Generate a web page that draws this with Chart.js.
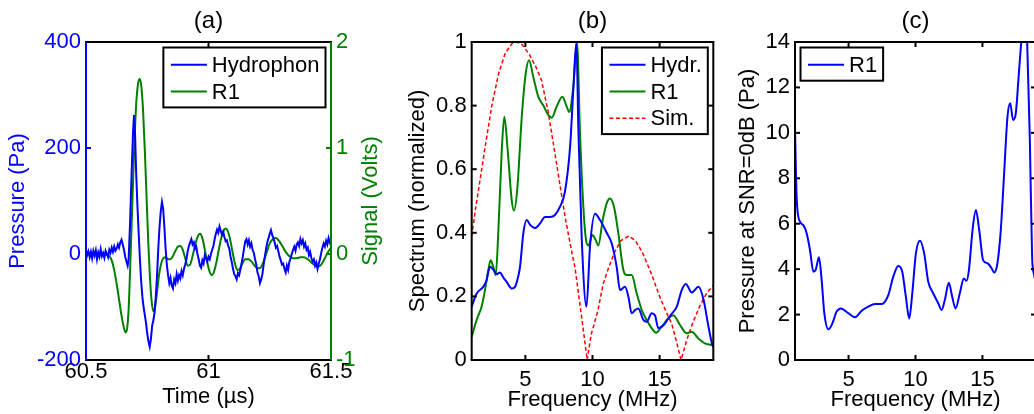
<!DOCTYPE html>
<html>
<head>
<meta charset="utf-8">
<script src="https://cdn.jsdelivr.net/npm/chart.js@4.4.0/dist/chart.umd.min.js"></script>
<style>
body{margin:0;background:#fff;width:1034px;height:414px;overflow:hidden;position:relative}
canvas{position:absolute;left:0;top:0}
</style>
</head>
<body>
<canvas id="chartA" width="1040" height="414"></canvas>
<canvas id="chartB" width="1040" height="414"></canvas>
<canvas id="chartC" width="1040" height="414"></canvas>
<script>
// (a) signaux temporels
var hydTime = [60.500,60.505,60.510,60.515,60.520,60.525,60.530,60.535,60.540,60.545,60.550,60.555,60.560,60.565,60.570,60.575,60.580,60.585,60.590,60.595,
  60.600,60.605,60.610,60.615,60.620,60.625,60.630,60.635,60.640,60.645,60.650,60.655,60.660,60.665,60.670,60.674,60.680,60.686,60.692,60.696,
  60.700,60.705,60.710,60.715,60.720,60.725,60.730,60.735,60.740,60.745,60.750,60.755,60.760,60.765,60.770,60.775,60.780,60.785,60.790,60.795,
  60.800,60.805,60.810,60.815,60.820,60.825,60.830,60.835,60.840,60.845,60.850,60.855,60.860,60.865,60.870,60.875,60.880,60.885,60.890,60.895,
  60.900,60.905,60.910,60.915,60.920,60.925,60.930,60.935,60.940,60.945,60.950,60.955,60.960,60.965,60.970,60.975,60.980,60.985,60.990,60.995,
  61.000,61.005,61.010,61.015,61.020,61.025,61.030,61.035,61.040,61.045,61.050,61.055,61.060,61.065,61.070,61.075,61.080,61.085,61.090,61.095,
  61.100,61.105,61.110,61.115,61.120,61.125,61.130,61.135,61.140,61.145,61.150,61.155,61.160,61.165,61.170,61.175,61.180,61.185,61.190,61.195,
  61.200,61.205,61.210,61.215,61.220,61.225,61.230,61.235,61.240,61.245,61.250,61.255,61.260,61.265,61.270,61.275,61.280,61.285,61.290,61.295,
  61.300,61.305,61.310,61.315,61.320,61.325,61.330,61.335,61.340,61.345,61.350,61.355,61.360,61.365,61.370,61.375,61.380,61.385,61.390,61.395,
  61.400,61.405,61.410,61.415,61.420,61.425,61.430,61.435,61.440,61.445,61.450,61.455,61.460,61.465,61.470,61.475,61.480,61.485,61.490,61.495,61.500];
var hydPressure = [8,-2,5,-6,4,-8,6,-3,7,-10,3,-5,9,-4,2,-7,6,0,-6,8,
  2,12,4,14,6,10,18,12,22,27,18,8,-5,-14,-22,-10,60,150,230,262,
  230,150,90,40,-10,-50,-80,-100,-115,-130,-150,-165,-175,-160,-135,-125,-110,-80,-40,10,
  50,80,98,85,50,10,-20,-40,-55,-45,-60,-65,-48,-55,-38,-50,-40,-46,-32,-40,
  -28,-20,-10,5,15,22,28,18,22,10,14,0,-10,-22,-26,-12,-18,-2,-8,-14,
  -5,-10,0,8,15,28,38,46,40,52,44,36,42,32,24,26,16,10,-5,-15,
  -28,-38,-42,-48,-36,-40,-30,-18,-5,10,24,28,18,26,14,20,8,2,-10,-20,
  -35,-42,-55,-48,-38,-20,-5,10,22,30,38,45,36,30,22,12,15,5,-5,-12,
  -20,-18,-28,-35,-22,-30,-15,-8,0,8,14,6,18,22,15,28,20,26,14,20,
  8,12,-2,4,-8,-14,-10,-22,-16,-28,-18,-10,2,12,20,14,25,18,30,22,28];

var r1Time = [60.500,60.520,60.540,60.560,60.580,60.595,60.605,60.615,60.625,60.635,60.645,60.655,60.662,60.668,60.674,60.680,60.688,60.696,60.704,60.712,
  60.719,60.726,60.733,60.740,60.747,60.754,60.761,60.768,60.775,60.782,60.790,60.798,60.806,60.815,60.825,60.835,60.845,60.855,60.865,60.875,
  60.885,60.895,60.905,60.915,60.925,60.935,60.945,60.955,60.965,60.975,60.985,60.995,61.005,61.013,61.022,61.032,61.042,61.052,61.062,61.070,
  61.078,61.088,61.098,61.108,61.118,61.128,61.138,61.150,61.163,61.175,61.188,61.200,61.212,61.225,61.238,61.250,61.262,61.274,61.286,61.300,
  61.315,61.330,61.345,61.360,61.375,61.390,61.405,61.420,61.435,61.448,61.460,61.475,61.488,61.500];
var r1Volts = [0,0,0,0,-0.005,-0.02,-0.06,-0.15,-0.28,-0.43,-0.58,-0.70,-0.74,-0.70,-0.52,-0.15,0.40,0.95,1.38,1.60,
  1.65,1.58,1.35,0.98,0.55,0.12,-0.22,-0.45,-0.54,-0.50,-0.36,-0.20,-0.10,-0.04,-0.03,-0.05,-0.05,-0.02,0.03,0.07,
  0.075,0.04,-0.04,-0.11,-0.10,-0.02,0.08,0.16,0.19,0.15,0.04,-0.08,-0.17,-0.20,-0.17,-0.08,0.04,0.15,0.22,0.24,
  0.22,0.14,0.02,-0.09,-0.15,-0.14,-0.09,-0.05,-0.05,-0.07,-0.11,-0.135,-0.13,-0.07,0.02,0.10,0.14,0.15,0.13,0.08,
  0.02,-0.02,-0.04,-0.04,-0.03,-0.03,-0.05,-0.08,-0.11,-0.12,-0.10,-0.04,0.02,0.06];

// (b) spectres normalises
var hydFreq = [1.0,1.37,1.86,2.1,2.36,2.6,2.86,3.1,3.35,3.6,3.98,4.23,4.45,4.6,4.85,5.1,5.35,5.72,6.1,6.46,
  6.84,7.2,7.58,7.95,8.33,8.57,8.8,8.95,9.2,9.55,9.82,10.19,10.56,11.06,11.43,11.8,12.05,12.42,12.67,12.92,
  13.17,13.41,13.79,14.03,14.41,14.66,14.9,15.3,15.8,16.28,16.65,16.95,17.4,17.9,18.27,18.64,18.9,19.0];
var hydSpectrum = [0.168,0.209,0.23,0.25,0.293,0.285,0.27,0.275,0.26,0.246,0.225,0.23,0.26,0.293,0.40,0.44,0.425,0.415,0.43,0.45,
  0.45,0.456,0.482,0.53,0.67,0.85,1.0,0.72,0.38,0.168,0.36,0.46,0.44,0.40,0.367,0.293,0.22,0.23,0.20,0.147,
  0.157,0.162,0.126,0.12,0.147,0.14,0.10,0.11,0.14,0.168,0.22,0.239,0.212,0.23,0.19,0.105,0.052,0.04];

var r1Freq = [1.0,1.37,1.74,1.99,2.24,2.41,2.61,2.79,2.98,3.24,3.43,3.68,3.98,4.15,4.4,4.73,5.02,5.27,5.59,5.96,
  6.34,6.71,6.96,7.33,7.75,8.08,8.27,8.57,8.85,9.07,9.32,9.52,9.7,9.99,10.24,10.43,10.76,11.06,11.3,11.6,
  11.92,12.3,12.54,12.92,13.29,13.67,14.04,14.41,14.73,15.16,15.65,16.02,16.52,17.02,17.39,17.88,18.38,18.9,19.0];
var r1Spectrum = [0.073,0.126,0.168,0.22,0.283,0.314,0.293,0.267,0.40,0.66,0.765,0.66,0.503,0.47,0.54,0.765,0.90,0.943,0.89,0.828,
  0.80,0.77,0.762,0.797,0.828,0.797,0.78,0.86,0.996,0.713,0.48,0.377,0.36,0.393,0.377,0.36,0.44,0.493,0.508,0.482,
  0.40,0.283,0.267,0.267,0.21,0.157,0.126,0.10,0.086,0.105,0.131,0.141,0.11,0.084,0.089,0.068,0.052,0.047,0.045];

var simFreq = [1.0,1.3,1.6,2.0,2.5,3.0,3.5,4.0,4.4,4.8,5.3,5.8,6.2,6.7,7.2,7.5,8.0,8.5,8.7,9.0,
  9.3,9.6,9.9,10.4,10.8,11.2,11.6,12.1,12.7,13.2,13.7,14.4,15.0,15.5,15.9,16.3,16.6,17.0,17.5,18.0,18.5,19.0];
var simSpectrum = [0.39,0.48,0.56,0.67,0.80,0.90,0.965,0.995,1.0,0.99,0.96,0.92,0.88,0.78,0.65,0.57,0.44,0.33,0.29,0.195,
  0.10,0.0,0.08,0.155,0.24,0.29,0.335,0.375,0.39,0.375,0.34,0.27,0.20,0.15,0.115,0.05,0.0,0.06,0.12,0.17,0.21,0.235];

// (c) pression a SNR = 0 dB
var snrFreq = [1.0,1.12,1.37,1.62,1.87,2.12,2.37,2.54,2.79,2.99,3.19,3.49,3.79,4.11,4.43,4.98,5.48,5.98,6.47,6.97,
  7.47,7.97,8.34,8.71,9.01,9.28,9.53,9.76,10.03,10.33,10.65,10.95,11.32,11.7,11.95,12.19,12.49,12.74,12.99,13.31,
  13.61,13.81,13.99,14.26,14.51,14.76,15.05,15.38,15.68,15.88,16.12,16.37,16.62,16.87,17.07,17.29,17.49,17.72,17.91,18.12,
  18.34,18.54,18.71,18.84,19.0];
var snrPressure = [10.2,7.19,6.09,5.94,5.58,4.84,3.89,3.96,4.52,3.52,2.06,1.35,1.61,2.13,2.27,2.06,1.88,2.17,2.35,2.47,
  2.47,2.86,3.67,4.14,3.89,2.79,1.83,2.94,4.69,5.25,4.69,3.45,2.94,2.5,2.2,2.64,3.4,2.79,2.27,2.94,
  3.59,3.49,3.96,5.72,6.6,5.72,4.4,4.26,4.04,3.85,4.26,5.72,8.22,10.71,11.3,10.57,10.86,12.62,14.1,15.5,
  14.0,9.69,4.55,3.8,3.4];

// graduations
var aTimeTicks = [60.5, 61, 61.5];
var aPressTicks = [-200, 0, 200, 400];
var aVoltTicks = [-1, 0, 1, 2];
var bFreqTicks = [5, 10, 15];
var bSpecTicks = [0, 0.2, 0.4, 0.6, 0.8, 1];
var cFreqTicks = [5, 10, 15];
var cPressTicks = [0, 2, 4, 6, 8, 10, 12, 14];

var BLUE = '#0000ff', GREEN = '#008000', RED = '#ff0000';
var FONT = '"Liberation Sans", Arial, Helvetica, sans-serif';

Chart.defaults.font.family = FONT;
Chart.defaults.font.size = 22;
Chart.defaults.color = '#000';

function xy(xs, ys){ return xs.map(function(x, i){ return {x: x, y: ys[i]}; }); }
function fixTicks(values){ return function(scale){ scale.ticks = values.map(function(v){ return {value: v}; }); }; }
function seg(ctx, x1, y1, x2, y2){ ctx.beginPath(); ctx.moveTo(x1, y1); ctx.lineTo(x2, y2); ctx.stroke(); }

// cadre et graduations vers l'interieur (style matlab)
var framePlugin = {
  id: 'frame',
  afterDatasetsDraw: function(chart, args, opts){
    var ctx = chart.ctx, a = chart.chartArea, tl = 5;
    var xs = chart.scales.x, yl = chart.scales.y, yr = chart.scales[opts.rightScale] || yl;
    ctx.save();
    ctx.lineWidth = 2;
    ctx.strokeStyle = '#000';
    xs.ticks.forEach(function(t){
      var px = xs.getPixelForValue(t.value);
      seg(ctx, px, a.bottom, px, a.bottom - tl);
      seg(ctx, px, a.top, px, a.top + tl);
    });
    ctx.strokeStyle = opts.leftColor;
    yl.ticks.forEach(function(t){ var py = yl.getPixelForValue(t.value); seg(ctx, a.left, py, a.left + tl, py); });
    ctx.strokeStyle = opts.rightColor;
    yr.ticks.forEach(function(t){ var py = yr.getPixelForValue(t.value); seg(ctx, a.right, py, a.right - tl, py); });
    ctx.strokeStyle = '#000';
    seg(ctx, a.left - 1, a.top, a.right + 1, a.top);
    seg(ctx, a.left - 1, a.bottom, a.right + 1, a.bottom);
    ctx.strokeStyle = opts.leftColor;
    seg(ctx, a.left, a.top, a.left, a.bottom);
    ctx.strokeStyle = opts.rightColor;
    seg(ctx, a.right, a.top, a.right, a.bottom);
    ctx.restore();
  }
};

// legende encadree dans la zone du graphe
var boxLegend = {
  id: 'boxLegend',
  afterDatasetsDraw: function(chart, args, opts){
    var ctx = chart.ctx, a = chart.chartArea;
    var items = chart.data.datasets;
    var padL = 7.5, lineLen = 36, gap = 5, padR = 6, padT = 4, rowH = 26.7, padB = 2.5, inset = 5.5;
    ctx.save();
    ctx.font = '22px ' + FONT;
    var textW = Math.max.apply(null, items.map(function(d){ return ctx.measureText(d.label).width; }));
    var w = padL + lineLen + gap + textW + padR;
    var h = padT + items.length * rowH + padB;
    var left = opts.side === 'right' ? a.right - inset - w : a.left + inset;
    var top = a.top + inset;
    ctx.fillStyle = '#fff';
    ctx.fillRect(left, top, w, h);
    ctx.lineWidth = 2;
    ctx.strokeStyle = '#000';
    ctx.strokeRect(left, top, w, h);
    items.forEach(function(d, i){
      var cy = top + padT + rowH * (i + 0.5);
      ctx.strokeStyle = d.borderColor;
      ctx.lineWidth = d.borderWidth;
      ctx.setLineDash(d.borderDash || []);
      seg(ctx, left + padL, cy, left + padL + lineLen, cy);
      ctx.setLineDash([]);
      ctx.fillStyle = '#000';
      ctx.textBaseline = 'middle';
      ctx.textAlign = 'left';
      ctx.fillText(d.label, left + padL + lineLen + gap, cy + 1);
    });
    ctx.restore();
  }
};

// titre de l'axe de droite, lu de bas en haut
var sideLabel = {
  id: 'sideLabel',
  afterDraw: function(chart, args, opts){
    if (!opts.text) return;
    var ctx = chart.ctx, a = chart.chartArea;
    ctx.save();
    ctx.translate(opts.x, (a.top + a.bottom) / 2);
    ctx.rotate(-Math.PI / 2);
    ctx.font = '22px ' + FONT;
    ctx.fillStyle = opts.color;
    ctx.textAlign = 'center';
    ctx.textBaseline = 'middle';
    ctx.fillText(opts.text, 0, 0);
    ctx.restore();
  }
};

function xScale(min, max, ticks, title, tickPad, titlePad){
  return {
    type: 'linear', min: min, max: max,
    afterBuildTicks: fixTicks(ticks),
    afterFit: function(s){ s.height = 54; },
    grid: {display: false, drawTicks: false}, border: {display: false},
    ticks: {color: '#000', padding: tickPad, maxRotation: 0, autoSkip: false, font: {lineHeight: 1},
      callback: function(v){ return String(v); }},
    title: {display: true, text: title, color: '#000', padding: {top: 0, bottom: titlePad}}
  };
}
function yScale(pos, min, max, ticks, width, color, title, titlePad){
  return {
    type: 'linear', position: pos, min: min, max: max,
    afterBuildTicks: fixTicks(ticks),
    afterFit: function(s){ s.width = width; },
    grid: {display: false, drawTicks: false}, border: {display: false},
    ticks: {color: color, padding: 5, autoSkip: false, callback: function(v){ return String(v); }},
    title: {display: !!title, text: title || '', color: color, padding: {top: titlePad || 0, bottom: 0}}
  };
}
function titleOpts(text){
  return {display: true, text: text, fullSize: false, color: '#000',
    font: {size: 24, weight: 'normal'}, padding: {top: 6.6, bottom: 6.6}};
}
var base = {responsive: false, animation: false, devicePixelRatio: 1, events: [],
  elements: {point: {radius: 0}}};

// (a)
new Chart(document.getElementById('chartA'), {
  type: 'line',
  data: {datasets: [
    {label: 'Hydrophon', data: xy(hydTime, hydPressure), yAxisID: 'y', borderColor: BLUE, borderWidth: 2, tension: 0},
    {label: 'R1', data: xy(r1Time, r1Volts), yAxisID: 'y2', borderColor: GREEN, borderWidth: 2, cubicInterpolationMode: 'monotone'}
  ]},
  options: Object.assign({}, base, {
    layout: {padding: {left: 0, right: 1040 - 331 - 60, top: 0, bottom: 0}},
    plugins: {legend: {display: false}, tooltip: {enabled: false}, title: titleOpts('(a)'),
      frame: {leftColor: BLUE, rightColor: GREEN, rightScale: 'y2'},
      boxLegend: {side: 'right'},
      sideLabel: {text: 'Signal (Volts)', color: GREEN, x: 371}},
    scales: {
      x: xScale(60.5, 61.5, aTimeTicks, 'Time (µs)', 0.7, 3.8),
      y: yScale('left', -200, 400, aPressTicks, 86, BLUE, 'Pressure (Pa)', 4.3),
      y2: yScale('right', -1, 2, aVoltTicks, 60, GREEN, null)
    }
  }),
  plugins: [framePlugin, boxLegend, sideLabel]
});

// (b)
new Chart(document.getElementById('chartB'), {
  type: 'line',
  data: {datasets: [
    {label: 'Hydr.', data: xy(hydFreq, hydSpectrum), borderColor: BLUE, borderWidth: 2, cubicInterpolationMode: 'monotone'},
    {label: 'R1', data: xy(r1Freq, r1Spectrum), borderColor: GREEN, borderWidth: 2, cubicInterpolationMode: 'monotone'},
    {label: 'Sim.', data: xy(simFreq, simSpectrum), borderColor: RED, borderWidth: 1.5, borderDash: [4, 2.5], tension: 0}
  ]},
  options: Object.assign({}, base, {
    layout: {padding: {left: 400.8, right: 1040 - 713.3, top: 0, bottom: 0}},
    plugins: {legend: {display: false}, tooltip: {enabled: false}, title: titleOpts('(b)'),
      frame: {leftColor: '#000', rightColor: '#000'},
      boxLegend: {side: 'right'}},
    scales: {
      x: xScale(1, 19, bFreqTicks, 'Frequency (MHz)', 9, 1.3),
      y: yScale('left', 0, 1, bSpecTicks, 70.9, '#000', 'Spectrum (normalized)', 4)
    }
  }),
  plugins: [framePlugin, boxLegend, sideLabel]
});

// (c)
new Chart(document.getElementById('chartC'), {
  type: 'line',
  data: {datasets: [
    {label: 'R1', data: xy(snrFreq, snrPressure), borderColor: BLUE, borderWidth: 2, cubicInterpolationMode: 'monotone'}
  ]},
  options: Object.assign({}, base, {
    layout: {padding: {left: 730.8, right: 1040 - 1036, top: 0, bottom: 0}},
    plugins: {legend: {display: false}, tooltip: {enabled: false}, title: titleOpts('(c)'),
      frame: {leftColor: '#000', rightColor: '#000'},
      boxLegend: {side: 'left'}},
    scales: {
      x: xScale(1, 19, cFreqTicks, 'Frequency (MHz)', 9, 1.3),
      y: yScale('left', 0, 14, cPressTicks, 64.2, '#000', 'Pressure at SNR=0dB (Pa)', 4)
    }
  }),
  plugins: [framePlugin, boxLegend, sideLabel]
});
</script>
</body>
</html>
